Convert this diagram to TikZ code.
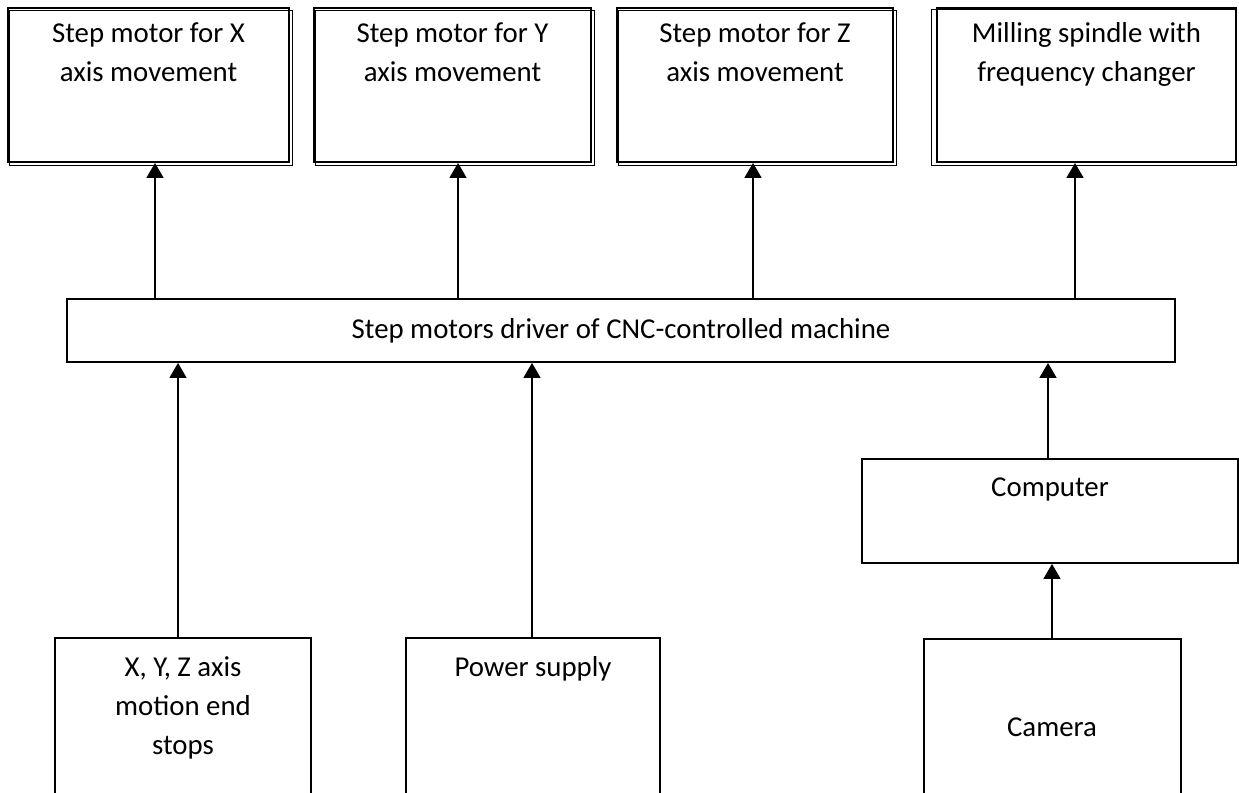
\documentclass[tikz,border=0pt]{standalone}
\usepackage{fontspec}
\setmainfont{Carlito}
\usetikzlibrary{arrows.meta,positioning,fit}

\tikzset{
  box/.style={draw, line width=1pt, inner sep=0pt},
  twin/.style={draw, line width=0.6pt},
  txt/.style={align=center, inner sep=0pt, font=\fontsize{16.4}{22.3}\selectfont},
  arr/.style={line width=1.3pt, -{Triangle[width=9.5pt,length=8.5pt]}}
}

\begin{document}
\begin{tikzpicture}[x=0.02cm, y=-0.02cm]
    \useasboundingbox (0,0) rectangle (1239,792);
    % motors and spindle
    \node[box, fit={(8,8) (289,162)}] (mx) {};
    \node[box, fit={(314,8) (591,162)}] (my) {};
    \node[box, fit={(617,8) (893,162)}] (mz) {};
    \node[box, fit={(937,8) (1236,162)}] (ms) {};
    \foreach \n in {mx,my,mz}
        \draw[twin] ([shift={(2,3)}]\n.north west) rectangle ([shift={(3,3)}]\n.south east);
    \draw[twin] ([shift={(-5,2)}]ms.north west) rectangle ([shift={(0,3)}]ms.south east);
    \node[txt, below=0.3cm of mx.north] (mxt) {Step motor for X\\axis movement};
    \node[txt, below=0.3cm of my.north] (myt) {Step motor for Y\\axis movement};
    \node[txt, below=0.3cm of mz.north] (mzt) {Step motor for Z\\axis movement};
    \node[txt, below=0.3cm of ms.north] (mst) {Milling spindle with\\frequency changer};
    % driver
    \node[box, fit={(67,299) (1175,362)}] (drv) {};
    \node[txt] (drvt) at (drv.center) {Step motors driver of CNC-controlled machine};
    % inputs
    \node[box, fit={(55,638) (311,800)}] (stp) {};
    \node[box, fit={(406,638) (660,800)}] (pwr) {};
    \node[box, fit={(862,459) (1238,563)}] (pc) {};
    \node[box, fit={(924,639) (1181,800)}] (cam) {};
    \node[txt, below=0.38cm of stp.north] (stpt) {X, Y, Z axis\\motion end\\stops};
    \node[txt, below=0.38cm of pwr.north] (pwrt) {Power supply};
    \node[txt, below=0.38cm of pc.north] (pct) {Computer};
    \node[txt] (camt) at (1052,727) {Camera};
    % connections
    \foreach \n/\x in {mx/155, my/458, mz/753, ms/1075}
        \draw[arr] (\x,0 |- drv.north) -- (\x,0 |- \n.south);
    \draw[arr] (178,0 |- stp.north) -- (178,0 |- drv.south);
    \draw[arr] (532,0 |- pwr.north) -- (532,0 |- drv.south);
    \draw[arr] (1048,0 |- pc.north) -- (1048,0 |- drv.south);
    \draw[arr] (1052,0 |- cam.north) -- (1052,0 |- pc.south);
\end{tikzpicture}
\end{document}
